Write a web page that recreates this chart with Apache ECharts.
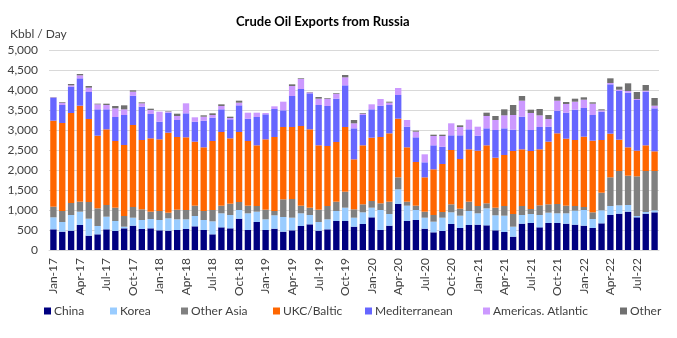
<!DOCTYPE html>
<html>
<head>
<meta charset="utf-8">
<script src="https://cdn.jsdelivr.net/npm/echarts@6/dist/echarts.min.js"></script>
<style>html,body{margin:0;padding:0;background:#fff}#c{width:677px;height:338px}</style>
</head>
<body>
<div id="c"></div>
<script>
const months = ['Jan','Feb','Mar','Apr','May','Jun','Jul','Aug','Sep','Oct','Nov','Dec'];
const categories = [];
for (let y = 17; y <= 22; y++) for (const m of months) { if (y === 22 && months.indexOf(m) > 8) break; categories.push(m + '-' + y); }

const china = [517,458,483,625,358,392,517,475,542,608,525,542,492,483,500,525,592,500,392,567,542,783,500,700,500,533,458,492,600,642,483,517,725,725,583,650,817,500,608,1150,725,750,533,442,475,650,550,625,633,617,492,450,333,658,675,567,675,675,658,633,608,550,667,875,908,958,817,908,942];
const korea = [300,242,392,333,425,208,316,250,41,200,225,233,258,309,267,242,258,250,325,350,333,217,417,258,267,334,367,316,317,233,217,250,250,333,225,292,241,500,292,367,383,250,275,266,333,292,308,350,284,425,375,408,250,217,225,308,258,242,259,350,392,225,325,225,209,167,33,42,50];
const otherAsia = [266,275,300,250,417,442,292,333,267,267,267,183,225,141,241,233,258,225,283,191,283,200,191,142,241,108,442,467,191,183,308,333,233,400,209,200,167,167,308,300,100,108,150,167,142,200,175,233,183,125,191,242,317,225,125,242,209,233,191,117,75,167,441,717,858,733,992,1025,983];
const ukcBaltic = [2150,2200,2250,2400,2075,1816,1892,1667,1775,2050,1733,1834,1792,2000,1817,1817,1600,1592,1725,1842,1634,1750,1617,1517,1759,1850,1808,1800,1992,1959,1609,1500,1492,1617,1250,1475,1583,1658,1709,1466,1359,1092,859,1142,1200,1358,1242,1309,1383,1450,1250,1275,1575,1417,1450,1400,1566,1767,1675,1650,1758,1791,1317,1091,783,709,641,642,492];
const mediterranean = [575,450,658,684,675,659,500,600,750,733,833,608,441,500,425,600,500,666,583,567,475,667,558,708,625,700,417,775,925,900,1008,1000,1083,1042,775,758,709,783,708,592,516,617,375,600,433,367,592,500,375,425,692,667,533,816,525,558,375,566,650,758,717,642,708,1234,1217,1366,1267,1341,1075];
const americas = [10,58,34,75,108,125,108,217,142,100,84,100,250,25,100,250,109,100,67,83,33,66,150,108,33,67,216,250,250,25,158,183,125,200,125,33,125,167,58,175,167,141,200,233,267,300,208,241,225,308,250,325,367,400,425,292,192,250,217,200,208,283,34,33,33,42,25,25,66];
const other = [7,17,33,33,42,16,33,58,100,34,25,33,0,12,58,0,0,34,42,42,33,50,0,0,0,0,0,42,17,8,42,17,17,58,83,17,0,0,25,0,0,25,0,33,33,0,42,0,0,83,100,150,250,117,83,158,100,100,50,75,59,34,25,117,75,192,175,142,192];

const yTicks = { min: 0, max: 5000, interval: 500 };

const seriesDefs = [
  ['China', china, '#000080'],
  ['Korea', korea, '#99CCFF'],
  ['Other Asia', otherAsia, '#808080'],
  ['UKC/Baltic', ukcBaltic, '#FF6600'],
  ['Mediterranean', mediterranean, '#6666FF'],
  ['Americas. Atlantic', americas, '#CC99FF'],
  ['Other', other, '#707070']
];
const legendLeft = [44, 110, 181, 273, 365, 483, 620];

const font = 'Lato, "Liberation Sans", sans-serif';
const chart = echarts.init(document.getElementById('c'), null, { renderer: 'canvas' });
chart.setOption({
  animation: false,
  backgroundColor: '#ffffff',
  title: [
    { text: 'Crude Oil Exports from Russia', left: 231, top: 10, textStyle: { fontFamily: font, fontSize: 13, fontWeight: 'bold', color: '#000' } },
    { text: 'Kbbl / Day', left: 5, top: 23, textStyle: { fontFamily: font, fontSize: 12, fontWeight: 'normal', color: '#404040' } }
  ],
  legend: seriesDefs.map((s, i) => ({
    left: legendLeft[i], top: 305, itemWidth: 7, itemHeight: 7, icon: 'rect', padding: 0,
    textStyle: { fontFamily: font, fontSize: 12, color: '#404040', padding: [0,0,0,-2] },
    data: [s[0]]
  })),
  grid: { left: 49, right: 18, top: 50, bottom: 88 },
  xAxis: {
    type: 'category', data: categories,
    axisLine: { show: true, lineStyle: { color: '#d9d9d9' } },
    axisTick: { show: false },
    axisLabel: { interval: 2, rotate: 90, fontFamily: font, fontSize: 12, color: '#404040', margin: 8 }
  },
  yAxis: {
    type: 'value', min: yTicks.min, max: yTicks.max, interval: yTicks.interval,
    axisLine: { show: false }, axisTick: { show: false },
    axisLabel: { fontFamily: font, fontSize: 12, color: '#404040', margin: 11, formatter: v => v.toLocaleString('en-US') },
    splitLine: { lineStyle: { color: '#d9d9d9' } }
  },
  series: seriesDefs.map(s => ({
    name: s[0], type: 'bar', stack: 'total', data: s[1],
    barCategoryGap: '28%', itemStyle: { color: s[2] }
  }))
});
</script>
</body>
</html>
